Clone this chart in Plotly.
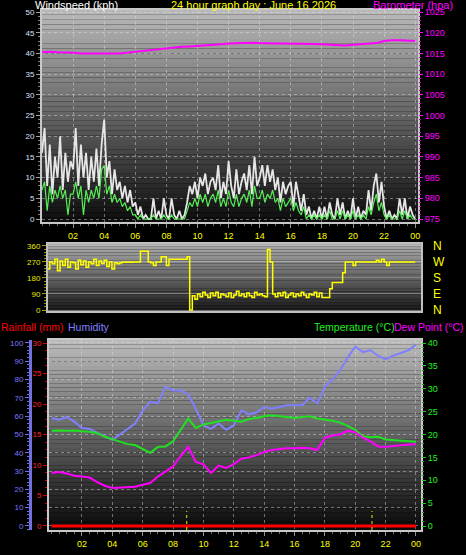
import plotly.graph_objects as go

W, H = 466, 555
FONT = "Liberation Sans, Arial, sans-serif"

# ---------------- data ----------------
hour_ticks = [2, 4, 6, 8, 10, 12, 14, 16, 18, 20, 22, 24]
hour_labels = ["02", "04", "06", "08", "10", "12", "14", "16", "18", "20", "22", "00"]

# 10-minute samples 00:00 .. 24:00
wind_gust_kph = [
    16, 22, 8, 18, 6, 15,
    10, 20, 7, 16, 9, 14,
    12, 22, 8, 18, 10, 16,
    7, 15, 9, 17, 8, 18,
    24, 10, 14, 6, 12, 7,
    9, 5, 8, 4, 7, 3,
    4, 1, 3, 0, 1, 0,
    0, 5, 0, 2, 0, 5,
    1, 0, 5, 1, 0, 2,
    0, 1, 4, 8, 6, 9,
    5, 10, 8, 11, 6, 9,
    10, 7, 13, 5, 9, 6,
    14, 8, 5, 12, 6, 9,
    11, 7, 13, 6, 15, 8,
    10, 13, 8, 13, 9, 12,
    7, 10, 4, 9, 6, 8,
    9, 3, 9, 5, 2, 6,
    1, 3, 0, 2, 0, 3,
    0, 3, 0, 4, 1, 0,
    5, 1, 4, 0, 2, 0,
    5, 0, 3, 0, 2, 1,
    7, 2, 8, 11, 4, 9,
    3, 0, 2, 0, 1, 0,
    5, 1, 5, 0, 3, 1,
    0,
]
wind_avg_kph = [
    7, 9, 2, 8, 4, 7,
    5, 8, 5, 7, 1, 6,
    6, 9, 5, 8, 1, 7,
    4, 7, 5, 8, 5, 12,
    13, 6, 8, 4, 6, 4,
    5, 3, 4, 2, 3, 1,
    1, 0, 1, 0, 0, 0,
    0, 1, 0, 0, 0, 1,
    0, 0, 1, 0, 0, 0,
    0, 0, 2, 4, 3, 5,
    3, 6, 4, 6, 3, 5,
    6, 4, 7, 3, 5, 3,
    7, 4, 3, 6, 3, 5,
    6, 4, 7, 3, 8, 5,
    5, 7, 4, 6, 5, 7,
    4, 5, 2, 5, 3, 4,
    5, 2, 4, 2, 1, 3,
    0, 1, 0, 1, 0, 1,
    0, 1, 0, 2, 0, 0,
    2, 0, 2, 0, 1, 0,
    2, 0, 1, 0, 1, 0,
    3, 1, 4, 6, 2, 4,
    1, 0, 1, 0, 0, 0,
    2, 0, 2, 0, 1, 0,
    0,
]
wind_dir_deg = [
    250, 280, 230, 270, 260, 285,
    220, 275, 250, 285, 240, 270,
    265, 230, 280, 255, 275, 240,
    270, 260, 285, 250, 275, 262,
    280, 245, 270, 230, 265, 260,
    265, 270, 268, 270, 268, 270,
    270, 270, 330, 330, 330, 270,
    265, 250, 270, 270, 300, 300,
    250, 285, 285, 285, 285, 285,
    285, 285, 300, 0, 80, 60,
    90, 75, 100, 85, 70, 95,
    80, 100, 70, 90, 85, 75,
    95, 70, 85, 105, 80, 90,
    75, 95, 80, 70, 100, 85,
    90, 80, 75, 340, 270, 90,
    75, 95, 80, 100, 70, 85,
    95, 75, 90, 80, 100, 85,
    70, 90, 85, 100, 75, 95,
    70, 70, 70, 120, 155, 155,
    155, 155, 210, 270, 270, 270,
    250, 270, 270, 270, 270, 270,
    270, 270, 270, 280, 270, 285,
    270, 250, 270, 270, 270, 270,
    270, 270, 270, 270, 270, 270,
    270,
]
wind_hours = [i / 6 for i in range(len(wind_gust_kph))]

# 30-minute samples 00:00 .. 24:00
barometer_hpa = [
    1015.3, 1015.4, 1015.3, 1015.3, 1015.2, 1015.0, 1015.0, 1015.1, 1015.1, 1015.0,
    1015.0, 1015.2, 1015.4, 1015.6, 1015.8, 1016.1, 1016.3, 1016.5, 1016.6, 1016.7,
    1016.8, 1016.9, 1017.0, 1017.2, 1017.4, 1017.5, 1017.6, 1017.6, 1017.5, 1017.4,
    1017.4, 1017.4, 1017.4, 1017.4, 1017.3, 1017.3, 1017.2, 1017.1, 1017.0, 1016.9,
    1017.1, 1017.2, 1017.3, 1017.5, 1018.0, 1018.2, 1018.2, 1018.1, 1018.0,
]
humidity_pct = [
    59, 58, 59.5, 57, 53.5, 53, 51, 49, 47, 50,
    53, 56, 63, 68, 67, 76, 74, 74, 72, 64,
    55, 53, 56, 52.5, 55, 63, 61, 62, 65, 64,
    65, 66, 66, 66, 70, 67, 76, 80, 85, 92,
    98, 95, 96, 93, 91, 93, 94.5, 96, 99,
]
temperature_c = [
    20.8, 20.9, 20.8, 20.9, 20.7, 20.6, 20.3, 19.5, 19.0, 18.5,
    17.9, 17.7, 16.8, 16.0, 17.3, 17.4, 18.5, 21.0, 23.5, 21.4,
    22.2, 22.5, 22.8, 23.2, 23.0, 22.8, 23.4, 23.6, 24.0, 24.2,
    24.0, 23.8, 23.6, 23.8, 24.0, 23.5, 23.3, 23.0, 22.6, 21.9,
    21.0, 19.6, 19.4, 19.5, 18.9, 18.8, 18.7, 18.5, 18.4,
]
dew_point_c = [
    11.6, 11.8, 11.5, 11.0, 10.8, 10.6, 9.6, 8.8, 8.3, 8.4,
    8.5, 8.6, 9.0, 9.4, 10.8, 12.0, 13.0, 15.3, 17.3, 14.0,
    13.5, 11.6, 13.2, 12.7, 13.5, 14.7, 15.0, 15.5, 16.2, 16.6,
    16.8, 17.0, 17.0, 17.1, 17.0, 16.6, 19.3, 19.8, 20.0, 20.8,
    20.5, 19.3, 18.5, 17.4, 17.3, 17.5, 17.7, 17.8, 17.9,
]
half_hours = [i * 0.5 for i in range(len(humidity_pct))]

rain_hours = [0, 24]
rainfall_mm = [0, 0]
rain_marker_hours = [8.9, 21.1]

compass_vals = [0, 90, 180, 270, 360]
compass_text = ["N", "E", "S", "W", "N"]


# ---------------- helpers ----------------
def px_x(p):
    return p / W


def px_y(p):
    return 1 - p / H


def gradient(xref, yref, top, bottom, n=44):
    out = []
    for i in range(n):
        g = round(top + (bottom - top) * (i + 0.5) / n)
        out.append(dict(type="rect", xref=xref, yref=yref, x0=0, x1=1,
                        y0=1 - (i + 1) / n, y1=1 - i / n,
                        fillcolor=f"rgb({g},{g},{g})", line_width=0, layer="below"))
    return out


GRID = "rgba(225,225,225,0.45)"

fig = go.Figure()

# ---- top panel ----
fig.add_trace(go.Scatter(x=wind_hours, y=wind_gust_kph, mode="lines",
                         line=dict(color="#e6e6e6", width=1.8), xaxis="x", yaxis="y"))
fig.add_trace(go.Scatter(x=wind_hours, y=wind_avg_kph, mode="lines",
                         line=dict(color="#55ee55", width=1.2), xaxis="x", yaxis="y"))
fig.add_trace(go.Scatter(x=half_hours, y=barometer_hpa, mode="lines",
                         line=dict(color="#ff00ff", width=2), xaxis="x", yaxis="y2"))

# ---- middle panel ----
fig.add_trace(go.Scatter(x=wind_hours, y=wind_dir_deg, mode="lines", line_shape="hv",
                         line=dict(color="#ffff00", width=1.5), xaxis="x2", yaxis="y3"))
fig.add_trace(go.Scatter(x=[None], y=[None], xaxis="x2", yaxis="y4", hoverinfo="skip"))

# ---- bottom panel ----
fig.add_trace(go.Scatter(x=rain_hours, y=rainfall_mm, mode="lines",
                         line=dict(color="#ff0000", width=3), xaxis="x3", yaxis="y5"))
fig.add_trace(go.Scatter(x=half_hours, y=humidity_pct, mode="lines",
                         line=dict(color="#8080ff", width=2), xaxis="x3", yaxis="y6"))
fig.add_trace(go.Scatter(x=half_hours, y=temperature_c, mode="lines",
                         line=dict(color="#22e022", width=2), xaxis="x3", yaxis="y7"))
fig.add_trace(go.Scatter(x=half_hours, y=dew_point_c, mode="lines",
                         line=dict(color="#ff00ff", width=2), xaxis="x3", yaxis="y7"))

shapes = []
shapes += gradient("x domain", "y domain", 186, 12)
shapes += gradient("x2 domain", "y3 domain", 172, 24, 24)
shapes += gradient("x3 domain", "y5 domain", 188, 8)
for h in rain_marker_hours:
    shapes.append(dict(type="line", xref="x3", yref="y5 domain", x0=h, x1=h, y0=0, y1=0.1,
                       line=dict(color="#e8e800", width=1, dash="dot"), layer="above"))

xcommon = dict(tickvals=hour_ticks, ticktext=hour_labels, showline=True, mirror=True,
               linecolor="#c8c8c8", linewidth=2, ticks="outside", ticklen=4,
               tickcolor="#909090", zeroline=False, automargin=False,
               minor=dict(ticks="outside", ticklen=2, dtick=0.5, tick0=0, tickcolor="#707070"))

layout = dict(
    width=W, height=H, margin=dict(l=0, r=0, t=0, b=0, autoexpand=False),
    paper_bgcolor="black", plot_bgcolor="black", showlegend=False,
    font=dict(family=FONT, color="white"),
    shapes=shapes,
    xaxis=dict(domain=[px_x(42), px_x(418)], range=[0, 24.18], anchor="y",
               tickfont=dict(family=FONT, size=9, color="#ffff00"),
               showgrid=True, gridcolor=GRID, griddash="dot", **xcommon),
    yaxis=dict(domain=[px_y(222), px_y(10)], range=[-0.72, 50.5], anchor="x",
               tickvals=[0, 5, 10, 15, 20, 25, 30, 35, 40, 45, 50],
               tickfont=dict(family=FONT, size=8, color="#dde0ff"),
               ticks="outside", ticklen=4, tickcolor="#a0a0a0",
               minor=dict(ticks="outside", ticklen=2, dtick=1, tickcolor="#808080"),
               showline=True, mirror=True, linecolor="#c8c8c8", linewidth=2,
               showgrid=True, gridcolor=GRID, griddash="dot", zeroline=False,
               automargin=False),
    yaxis2=dict(overlaying="y", side="right", anchor="x", range=[974.28, 1025.5],
                tickvals=[975, 980, 985, 990, 995, 1000, 1005, 1010, 1015, 1020, 1025],
                tickfont=dict(family=FONT, size=9, color="#ff00ff"),
                ticks="outside", ticklen=4, tickcolor="#ff00ff",
                minor=dict(ticks="outside", ticklen=2, dtick=1, tickcolor="#cc00cc"),
                showgrid=False, zeroline=False, showline=False, automargin=False),
    xaxis2=dict(domain=[px_x(48), px_x(421)], range=[0.39, 24.37], anchor="y3",
                showticklabels=False, showgrid=False, tickvals=hour_ticks,
                showline=True, mirror=True, linecolor="#c0c0c0", linewidth=2,
                ticks="", zeroline=False, automargin=False),
    yaxis3=dict(domain=[px_y(311), px_y(244)], range=[-5.6, 371], anchor="x2",
                tickvals=compass_vals,
                tickfont=dict(family=FONT, size=8, color="#e8e800"),
                ticks="outside", ticklen=4, tickcolor="#a0a000",
                minor=dict(ticks="outside", ticklen=2, dtick=18, tickcolor="#909000"),
                showline=True, mirror=True, linecolor="#c0c0c0", linewidth=2,
                showgrid=True, gridcolor="rgba(210,210,210,0.45)", zeroline=False,
                automargin=False),
    yaxis4=dict(overlaying="y3", anchor="free", position=px_x(432), side="right",
                range=[-5.6, 371], tickvals=compass_vals, ticktext=compass_text,
                tickfont=dict(family=FONT, size=12, color="#ffff00"),
                ticks="", showline=False, showgrid=False, zeroline=False,
                automargin=False),
    xaxis3=dict(domain=[px_x(49), px_x(421)], range=[-0.17, 24.33], anchor="y5",
                tickfont=dict(family=FONT, size=9, color="#ffff00"),
                showgrid=True, gridcolor=GRID, griddash="dot", **xcommon),
    yaxis5=dict(domain=[px_y(530), px_y(340)], range=[-0.66, 30.5], anchor="x3",
                tickvals=[0, 5, 10, 15, 20, 25, 30],
                tickfont=dict(family=FONT, size=8, color="#ff2020"),
                ticks="outside", ticklen=4, tickcolor="#dd0000",
                minor=dict(ticks="outside", ticklen=2, dtick=1.25, tickcolor="#cc0000"),
                showline=True, mirror=True, linecolor="#c8c8c8", linewidth=2,
                showgrid=False, zeroline=False, automargin=False),
    yaxis6=dict(overlaying="y5", anchor="free", position=px_x(30), side="left",
                range=[-2.2, 101.6],
                tickvals=[0, 10, 20, 30, 40, 50, 60, 70, 80, 90, 100],
                tickfont=dict(family=FONT, size=8, color="#7a7aff"),
                ticks="outside", ticklen=4, tickcolor="#7070e0",
                minor=dict(ticks="outside", ticklen=2, dtick=2, tickcolor="#7070e0"),
                showline=True, linecolor="#7070e0", linewidth=3,
                showgrid=True, gridcolor=GRID, griddash="dot", zeroline=False,
                automargin=False),
    yaxis7=dict(overlaying="y5", anchor="x3", side="right", range=[-0.87, 40.66],
                tickvals=[0, 5, 10, 15, 20, 25, 30, 35, 40],
                tickfont=dict(family=FONT, size=9, color="#22ee22"),
                ticks="outside", ticklen=4, tickcolor="#22cc22",
                minor=dict(ticks="outside", ticklen=2, dtick=1, tickcolor="#22aa22"),
                showline=False, showgrid=False, zeroline=False, automargin=False),
)


def label(text, x, y, color, anchor="left", size=10.5):
    return dict(text=text, x=px_x(x), y=px_y(y), xref="paper", yref="paper",
                xanchor=anchor, yanchor="middle", showarrow=False,
                font=dict(family=FONT, size=size, color=color))


layout["annotations"] = [
    label("Windspeed (kph)", 33, 4.5, "#ffffff", size=11),
    label("24 hour graph day : June 16 2026", 253, 4.5, "#ffff00", "center", size=11),
    label("Barometer (hpa)", 371, 4.5, "#ff00ff", size=11),
    label("Rainfall (mm)", -1, 327, "#ff0000"),
    label("Humidity", 66, 327, "#8080ff"),
    label("Temperature (°C)", 312, 327, "#22ee22"),
    label("Dew Point (°C)", 392, 327, "#ff00ff"),
]

fig.update_layout(**layout)
fig.write_html("out.html",
               config={"displayModeBar": False, "staticPlot": True},
               post_script="document.body.style.margin='0px';document.body.style.background='black';")
